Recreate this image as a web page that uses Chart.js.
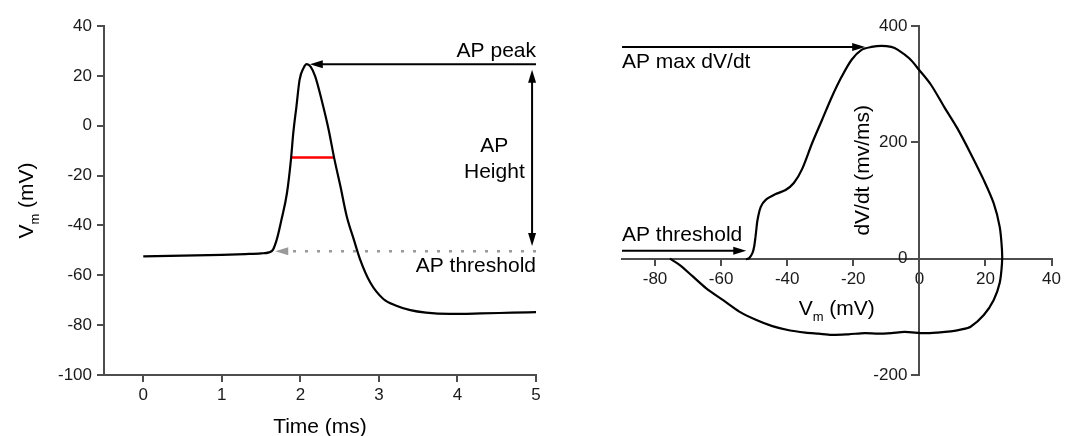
<!DOCTYPE html>
<html>
<head>
<meta charset="utf-8">
<script src="https://cdn.jsdelivr.net/npm/chart.js@4.4.0/dist/chart.umd.min.js"></script>
<style>
    html, body { margin: 0; padding: 0; background: #fff; }
    #wrap { position: relative; width: 1065px; height: 436px; }
    .panel { position: absolute; top: 0; height: 436px; }
    #left { left: 0; width: 560px; }
    #right { left: 560px; width: 505px; }
</style>
</head>
<body>
<div id="wrap">
    <div class="panel" id="left"><canvas id="trace"></canvas></div>
    <div class="panel" id="right"><canvas id="phase"></canvas></div>
</div>
<script>
// Action potential trace: time (ms) vs membrane potential (mV)
const traceTime = [0, 0.5, 1.0, 1.3, 1.5, 1.6, 1.65, 1.7, 1.76, 1.83, 1.88, 1.91, 1.95, 1.99, 2.04, 2.08,
    2.13, 2.19, 2.27, 2.36, 2.43, 2.51, 2.59, 2.68, 2.76, 2.89, 3.06, 3.23, 3.4, 3.6, 3.9, 4.3, 4.7, 5.0];
const traceVm = [-52.4, -52.1, -51.8, -51.5, -51.2, -50.8, -49.8, -45.6, -37.6, -26.9, -13.6, -2.9, 7.7, 18.4, 23.1, 24.7,
    23.7, 19.7, 10.4, -1.6, -12.9, -24.3, -36.3, -45.6, -53.6, -62.9, -69.6, -72.3, -74.0, -75.0, -75.5, -75.3, -75.0, -74.8];

// Half-width marker (red bar)
const halfWidthTime = [1.88, 2.43];
const halfWidthVm = [-12.8, -12.8];

// Phase plot: Vm (mV) vs dV/dt (mV/ms)
const phaseVm = [-52.5, -51.5, -50.5, -50.0, -49.5, -49.0, -48.0, -46.5, -43.5, -40.5, -38.0, -35.5, -32.5, -29.5,
    -26.5, -23.5, -20.5, -17.5, -14.5, -11.5, -8.5, -6.5, -3.0, 0.0, 3.5, 7.5, 11.5, 15.5, 19.5, 22.5, 24.3, 25.0,
    25.0, 24.3, 22.5, 19.5, 15.5, 12.5, 9.5, 5.5, 1.5, -4.5, -8.5, -12.5, -16.5, -21.5, -26.5, -30.5, -34.5, -39.5,
    -44.5, -49.5, -54.5, -59.5, -64.5, -68.5, -72.5, -75.5];
const phaseDvdt = [-1, 1, 10, 21, 42, 66, 89, 101, 111, 118, 130, 154, 198, 238,
    278, 313, 342, 359, 364, 366, 364, 359, 344, 324, 299, 261, 224, 181, 135, 95, 55, 15,
    -8, -42, -71, -97, -117, -122, -125, -127, -128, -126, -128, -129, -128, -130, -131, -129, -127, -123,
    -116, -105, -91, -71, -51, -31, -11, 0];

// Tick labels
const traceXTicks = [0, 1, 2, 3, 4, 5];
const traceYTicks = [-100, -80, -60, -40, -20, 0, 20, 40];
const phaseXTicks = [-80, -60, -40, -20, 0, 20, 40];
const phaseYTicks = [-200, 0, 200, 400];

// Measured values used by the annotations
const apPeak = 24.7;
const apThreshold = -50.4;
const apMaxDvdt = 364;

const FONT = '"Liberation Sans", Arial, sans-serif';
const AXIS_COLOR = '#4d4d4d';
const TICK_COLOR = '#1a1a1a';

function toPoints(xs, ys) {
    return xs.map((x, i) => ({ x, y: ys[i] }));
}

function fixedTicks(values) {
    return (scale) => { scale.ticks = values.map(v => ({ value: v })); };
}

function arrowHead(ctx, x, y, angle, color) {
    ctx.save();
    ctx.translate(x, y);
    ctx.rotate(angle);
    ctx.beginPath();
    ctx.moveTo(0, 0);
    ctx.lineTo(-13, -4);
    ctx.lineTo(-13, 4);
    ctx.closePath();
    ctx.fillStyle = color;
    ctx.fill();
    ctx.restore();
}

// Text with an optional subscript part, centred on the origin, baseline at 0
function drawParts(ctx, parts, size) {
    const subSize = Math.round(size * 0.62);
    const widths = parts.map(p => {
        ctx.font = `${p.sub ? subSize : size}px ${FONT}`;
        return ctx.measureText(p.text).width;
    });
    let x = -widths.reduce((a, b) => a + b, 0) / 2;
    parts.forEach((p, i) => {
        ctx.font = `${p.sub ? subSize : size}px ${FONT}`;
        ctx.fillText(p.text, x, p.sub ? size * 0.3 : 0);
        x += widths[i];
    });
}

const notesPlugin = {
    id: 'notes',
    afterDatasetsDraw(chart, args, opts) {
        const { ctx } = chart;
        const sx = chart.scales.x, sy = chart.scales.y;
        const px = v => sx.getPixelForValue(v);
        const py = v => sy.getPixelForValue(v);

        // y labels for an axis that crosses the plot (Chart.js puts them on the line)
        if (opts.crossYLabels) {
            const gap = opts.crossYLabels.gap;
            const x0 = px(chart.options.scales.y.position.x);
            ctx.save();
            ctx.fillStyle = TICK_COLOR;
            ctx.font = `17px ${FONT}`;
            ctx.textAlign = 'right';
            ctx.textBaseline = 'middle';
            for (const t of sy.ticks) ctx.fillText(String(t.value), x0 - gap, py(t.value));
            ctx.restore();
        }

        for (const a of opts.arrows || []) {
            const x1 = px(a.from[0]), y1 = py(a.from[1]);
            const x2 = px(a.to[0]), y2 = py(a.to[1]);
            const angle = Math.atan2(y2 - y1, x2 - x1);
            const len = Math.hypot(x2 - x1, y2 - y1);
            const startCut = a.both ? 10 : 0;
            ctx.save();
            ctx.strokeStyle = a.color;
            ctx.lineWidth = a.width;
            ctx.setLineDash(a.dash || []);
            ctx.beginPath();
            ctx.moveTo(x1 + Math.cos(angle) * startCut, y1 + Math.sin(angle) * startCut);
            ctx.lineTo(x1 + Math.cos(angle) * (len - 10), y1 + Math.sin(angle) * (len - 10));
            ctx.stroke();
            ctx.restore();
            arrowHead(ctx, x2, y2, angle, a.color);
            if (a.both) arrowHead(ctx, x1, y1, angle + Math.PI, a.color);
        }

        ctx.save();
        ctx.fillStyle = '#000';
        ctx.font = `21px ${FONT}`;
        ctx.textBaseline = 'middle';
        for (const t of opts.labels || []) {
            ctx.textAlign = t.align;
            ctx.fillText(t.text, px(t.x), py(t.y));
        }
        ctx.restore();

        for (const t of opts.titles || []) {
            ctx.save();
            ctx.fillStyle = '#000';
            ctx.textAlign = 'left';
            ctx.textBaseline = 'alphabetic';
            ctx.translate(px(t.at[0]) + (t.dx || 0), py(t.at[1]) + (t.dy || 0));
            if (t.rotate) ctx.rotate(-Math.PI / 2);
            drawParts(ctx, t.parts, 21);
            ctx.restore();
        }
    }
};

function axisStyle(tickLength) {
    return {
        grid: { display: true, drawOnChartArea: false, drawTicks: true, tickLength, color: AXIS_COLOR, lineWidth: 2 },
        border: { display: true, color: AXIS_COLOR, width: 2 }
    };
}

const tickFont = { family: FONT, size: 17 };

new Chart(document.getElementById('trace'), {
    type: 'scatter',
    data: {
        datasets: [
            {
                data: toPoints(traceTime, traceVm),
                showLine: true,
                borderColor: '#000',
                borderWidth: 2.2,
                pointRadius: 0,
                cubicInterpolationMode: 'monotone'
            },
            {
                data: toPoints(halfWidthTime, halfWidthVm),
                showLine: true,
                borderColor: '#ff0000',
                borderWidth: 2.5,
                pointRadius: 0
            }
        ]
    },
    options: {
        responsive: true,
        maintainAspectRatio: false,
        animation: false,
        layout: { padding: { top: 26, right: 24, left: 0, bottom: 0 } },
        plugins: {
            legend: { display: false },
            tooltip: { enabled: false },
            notes: {
                arrows: [
                    { from: [5.0, apPeak], to: [2.12, apPeak], color: '#000', width: 2 },
                    { from: [4.95, 22.4], to: [4.95, -48.3], color: '#000', width: 2, both: true },
                    { from: [5.0, apThreshold], to: [1.68, apThreshold], color: '#9a9a9a', width: 2.5, dash: [3, 9] }
                ],
                labels: [
                    { text: 'AP peak', x: 5.0, y: 29.7, align: 'right' },
                    { text: 'AP', x: 4.47, y: -8.3, align: 'center' },
                    { text: 'Height', x: 4.47, y: -18.8, align: 'center' },
                    { text: 'AP threshold', x: 5.0, y: -56.4, align: 'right' }
                ],
                titles: [
                    { parts: [{ text: 'Time (ms)' }], at: [2.25, -100], dy: 58 },
                    { parts: [{ text: 'V' }, { text: 'm', sub: true }, { text: ' (mV)' }], at: [-0.5, -30], dx: -71, rotate: true }
                ]
            }
        },
        scales: {
            x: {
                type: 'linear',
                position: 'bottom',
                min: -0.5,
                max: 5,
                afterBuildTicks: fixedTicks(traceXTicks),
                afterFit: (s) => { s.height = 61; },
                ticks: { font: tickFont, color: TICK_COLOR, padding: 3, maxRotation: 0 },
                ...axisStyle(7)
            },
            y: {
                type: 'linear',
                position: 'left',
                min: -100,
                max: 40,
                afterBuildTicks: fixedTicks(traceYTicks),
                afterFit: (s) => { s.width = 104; },
                ticks: { font: tickFont, color: TICK_COLOR, padding: 5 },
                ...axisStyle(7)
            }
        }
    },
    plugins: [notesPlugin]
});

new Chart(document.getElementById('phase'), {
    type: 'scatter',
    data: {
        datasets: [{
            data: toPoints(phaseVm, phaseDvdt),
            showLine: true,
            borderColor: '#000',
            borderWidth: 2.2,
            pointRadius: 0,
            tension: 0.3
        }]
    },
    options: {
        responsive: true,
        maintainAspectRatio: false,
        animation: false,
        layout: { padding: { top: 26, right: 10, left: 62, bottom: 61 } },
        plugins: {
            legend: { display: false },
            tooltip: { enabled: false },
            notes: {
                crossYLabels: { gap: 12 },
                arrows: [
                    { from: [-90, apMaxDvdt], to: [-16.4, apMaxDvdt], color: '#000', width: 2 },
                    { from: [-90, 13.7], to: [-52.4, 13.7], color: '#000', width: 2 }
                ],
                labels: [
                    { text: 'AP max dV/dt', x: -90, y: 338, align: 'left' },
                    { text: 'AP threshold', x: -90, y: 39.5, align: 'left' }
                ],
                titles: [
                    { parts: [{ text: 'V' }, { text: 'm', sub: true }, { text: ' (mV)' }], at: [-25, 0], dy: 56 },
                    { parts: [{ text: 'dV/dt (mv/ms)' }], at: [0, 152], dx: -50, rotate: true }
                ]
            }
        },
        scales: {
            x: {
                type: 'linear',
                position: { y: 0 },
                min: -90,
                max: 40,
                afterBuildTicks: fixedTicks(phaseXTicks),
                afterFit: (s) => { s.height = 0; },
                ticks: { font: tickFont, color: TICK_COLOR, padding: 4, maxRotation: 0 },
                ...axisStyle(6)
            },
            y: {
                type: 'linear',
                position: { x: 0 },
                min: -200,
                max: 400,
                afterBuildTicks: fixedTicks(phaseYTicks),
                afterFit: (s) => { s.width = 0; },
                ticks: { display: false },
                ...axisStyle(7)
            }
        }
    },
    plugins: [notesPlugin]
});
</script>
</body>
</html>
